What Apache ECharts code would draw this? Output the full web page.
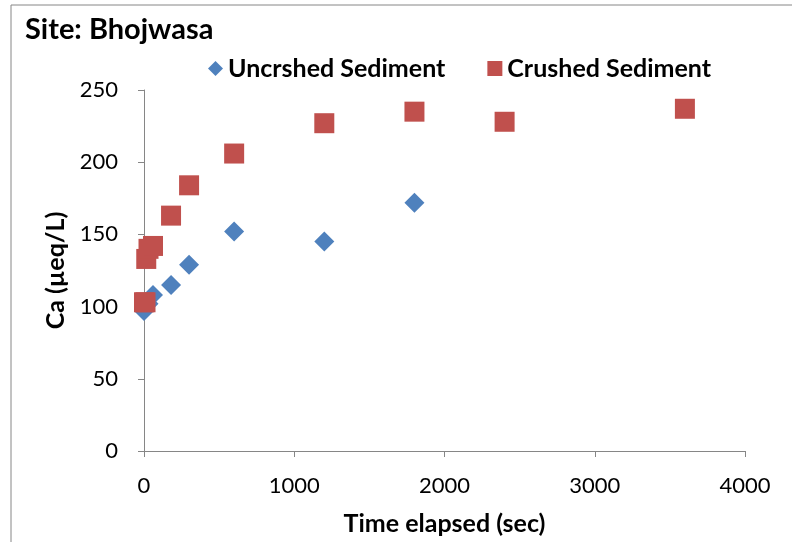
<!DOCTYPE html>
<html><head><meta charset="utf-8">
<script src="https://cdn.jsdelivr.net/npm/echarts@6/dist/echarts.min.js"></script>
<style>html,body{margin:0;padding:0;background:#fff}#c{width:792px;height:542px}</style>
</head><body><div id="c"></div>
<script>
const titleText = "Site: Bhojwasa";
const seriesNames = ["Uncrshed Sediment", "Crushed Sediment"];
const uncrushedTime = [0, 30, 60, 180, 300, 600, 1200, 1800];
const uncrushedCa = [97, 102, 108, 115, 129, 152, 145, 172];
const crushedTime = [0, 10, 15, 30, 60, 180, 300, 600, 1200, 1800, 2400, 3600];
const crushedCa = [103, 103, 133, 140, 142, 163, 184, 206, 227, 235, 228, 237];
const xTicks = [0, 1000, 2000, 3000, 4000];
const yTicks = [0, 50, 100, 150, 200, 250];

const FONT = "Lato";
const chart = echarts.init(document.getElementById('c'));
const pair = (xs, ys) => xs.map((x, i) => [x, ys[i]]);
const axisGray = '#868686';
chart.setOption({
  backgroundColor: '#fff',
  animation: false,
  textStyle: {fontFamily: FONT},
  title: {text: titleText, left: 20, top: 10,
    textStyle: {fontFamily: FONT, fontWeight: 'bold', fontSize: 29, color: '#000'}},
  graphic: [{type: 'rect', shape: {x: 11, y: 5, width: 800, height: 560},
    style: {fill: 'none', stroke: axisGray, lineWidth: 1}, silent: true}],
  legend: {left: 203, top: 51, itemGap: 42, itemWidth: 15, itemHeight: 15,
    textStyle: {fontFamily: FONT, fontWeight: 'bold', fontSize: 25, color: '#000'},
    data: [{name: seriesNames[0], icon: 'diamond'}, {name: seriesNames[1], icon: 'rect'}]},
  grid: {left: 144, right: 47, top: 90, bottom: 91, containLabel: false},
  xAxis: {type: 'value', min: xTicks[0], max: xTicks[xTicks.length-1], interval: 1000,
    name: 'Time elapsed (sec)', nameLocation: 'middle', nameGap: 60,
    nameTextStyle: {fontFamily: FONT, fontWeight: 'bold', fontSize: 25, color: '#000'},
    axisLine: {show: true, onZero: false, lineStyle: {color: axisGray, width: 1}},
    axisTick: {show: true, inside: false, length: 6, lineStyle: {color: axisGray}},
    axisLabel: {fontFamily: FONT, fontSize: 22, color: '#000', margin: 24,
      formatter: v => String(v)},
    splitLine: {show: false}},
  yAxis: {type: 'value', min: yTicks[0], max: yTicks[yTicks.length-1], interval: 50,
    name: 'Ca (µeq/L)', nameLocation: 'middle', nameGap: 76, nameRotate: 90,
    nameTextStyle: {fontFamily: FONT, fontWeight: 'bold', fontSize: 25, color: '#000'},
    axisLine: {show: true, onZero: false, lineStyle: {color: axisGray, width: 1}},
    axisTick: {show: true, inside: false, length: 6, lineStyle: {color: axisGray}},
    axisLabel: {fontFamily: FONT, fontSize: 22, color: '#000', margin: 26,
      formatter: v => String(v)},
    splitLine: {show: false}},
  series: [
    {name: seriesNames[0], type: 'scatter', symbol: 'diamond', symbolSize: 20,
      itemStyle: {color: '#4F81BD', opacity: 1}, data: pair(uncrushedTime, uncrushedCa)},
    {name: seriesNames[1], type: 'scatter', symbol: 'rect', symbolSize: 20,
      itemStyle: {color: '#C0504D', opacity: 1}, data: pair(crushedTime, crushedCa)}
  ]
});
</script></body></html>
